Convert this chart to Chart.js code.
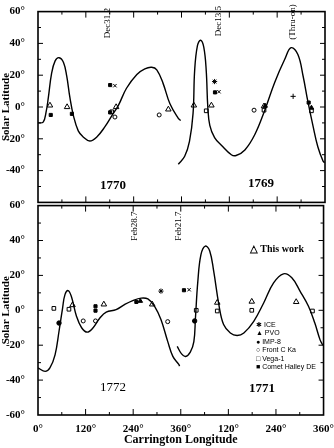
<!DOCTYPE html>
<html>
<head>
<meta charset="utf-8">
<script src="https://cdn.jsdelivr.net/npm/chart.js@4.4.1/dist/chart.umd.min.js"></script>
<style>
  body { margin: 0; background: #fff; }
  #wrap { position: relative; width: 334px; height: 448px; overflow: hidden; }
  canvas { position: absolute; left: 0; }
  .lbl { position: absolute; transform: translate(-50%, -50%); white-space: nowrap; color: #000; }
  .year { font: 13px "Liberation Serif", serif; }
  .bold { font-weight: bold; }
  .date { font: 9px "Liberation Serif", serif; transform: translate(-50%, -50%) rotate(-90deg); }
  .leg { position: absolute; left: 256px; font: 7px "Liberation Sans", sans-serif; line-height: 8.4px; color: #000; }
</style>
</head>
<body>
<div id="wrap">
  <canvas id="topChart" width="334" height="214" style="top:0"></canvas>
  <canvas id="bottomChart" width="334" height="254" style="top:194px"></canvas>

  <div class="lbl year bold" style="left:113px;top:185px">1770</div>
  <div class="lbl year bold" style="left:261px;top:183px">1769</div>
  <div class="lbl year" style="left:113px;top:387px">1772</div>
  <div class="lbl year bold" style="left:262px;top:388px">1771</div>

  <div class="lbl date" style="left:107px;top:23px">Dec31.2</div>
  <div class="lbl date" style="left:218px;top:21px">Dec13.5</div>
  <div class="lbl date" style="left:292px;top:22px">(Thru-on)</div>
  <div class="lbl date" style="left:134px;top:226px">Feb28.7</div>
  <div class="lbl date" style="left:178px;top:226px">Feb21.7</div>

  <div class="lbl bold" style="left:277px;top:248px;font:bold 10px 'Liberation Serif',serif">△ This work</div>
  <div class="leg" style="top:321px">
    ✱ ICE<br>▲ PVO<br>● IMP-8<br>○ Front C Ka<br>□ Vega-1<br>■ Comet Halley DE
  </div>
</div>

<script>
// neutral line curves, Carrington longitude 0-720 (two rotations side by side)
const lon1770 = [0, 13, 20, 26, 34, 43, 53, 64, 72, 80, 89, 101, 114, 130, 147, 168, 185, 202, 222, 248, 268, 285, 298, 314, 331, 352, 358];
const lat1770 = [-10, -9.5, -3.5, 6, 21, 29, 31, 28, 19.5, 6, -5.6, -15, -19, -21.4, -19, -12.4, -5.6, 1.2, 11.8, 20.5, 24, 25, 23.4, 14.7, 2, -7.1, -8.5];

const lon1769 = [352, 368, 380, 389, 393, 400, 408, 416, 422, 426, 431, 443, 460, 485, 497, 519, 544, 569, 594, 619, 635, 652, 665, 677, 690, 702, 715, 719];
const lat1769 = [-36, -31, -21.6, -4, 23, 38.6, 42, 37.5, 23, 0, -11.6, -19.3, -24, -30, -30.5, -27, -17.3, -2, 15.6, 30, 37.3, 33, 19.5, 3.5, -12, -25, -34, -35];

const lon1772 = [0, 18, 30, 43, 53, 62, 68, 76, 84, 97, 110, 124, 139, 156, 172, 197, 218, 239, 260, 277, 294, 310, 327, 340, 355, 357];
const lat1772 = [-33, -35, -33, -25.5, -12, 1.3, 9, 11.3, 8, -3.4, -10, -12.5, -10, -4.4, -1, 0.4, 3.3, 5.6, 7, 6.5, 2.3, -5.3, -17.8, -26.4, -31, -32];

const lon1771 = [351, 362, 372, 384, 393, 397, 403, 411, 422, 433, 443, 456, 468, 485, 502, 519, 544, 569, 594, 619, 640, 661, 682, 698, 711, 718];
const lat1771 = [-20.7, -25, -26.5, -24, -18, -4.4, 16.6, 32, 36.8, 34, 22.4, 3.3, -8.2, -13, -14.4, -13, -6.3, 4.2, 15.7, 20.9, 18.6, 10.9, 2.3, -7.3, -16.8, -20];

// observations, top panel (1770 / 1769)
const topThisWork = [[30, 1], [73, 0], [196, 0], [327, -1.5], [391, 1], [435, 1], [567, 0.5]];
const topVega = [[185, -3], [422, -2.4], [567, -2], [686, -2.4]];
const topFront = [[193, -6.3], [304, -5], [542, -2]];
const topHalley = [[32, -5], [85, -4.3], [181, -3.4], [181, 13.8], [444, 9.2], [679, 2.8]];
const topPvo = [[570, 0.7], [686, -0.5]];
const topIce = [[443, 16]];
const topX = [[193, 13.4], [454, 9.6]];
const topPlus = [[640, 6.7]];

// observations, bottom panel (1772 / 1771)
const botThisWork = [[87, 3], [166, 3.4], [288, 3.4], [452, 4.4], [539, 5], [651, 4.8]];
const botVega = [[40, 1.1], [78, 0.6], [399, 0], [452, -0.4], [539, 0], [692, -0.4]];
const botImp = [[53, -7.3], [395, -6.1]];
const botFront = [[114, -6.1], [145, -6.1], [327, -6.5]];
const botHalley = [[145, 2.3], [145, -0.2], [248, 4.8], [368, 11.5]];
const botPvo = [[258, 5.3]];
const botIce = [[310, 11]];
const botX = [[381, 11.8]];

const lonTicks = [0, 120, 240, 360, 480, 600, 720];
const latTicks = [-60, -40, -20, 0, 20, 40, 60];

const serifBold = { family: 'Liberation Serif', weight: 'bold', size: 11 };

const toXY = (lons, lats) => lons.map((v, i) => ({ x: v, y: lats[i] }));
const pts = arr => arr.map(p => ({ x: p[0], y: p[1] }));

function curve(lons, lats) {
  return { data: toXY(lons, lats), showLine: true, borderColor: '#000', borderWidth: 1.4,
           pointRadius: 0, tension: 0.4, fill: false };
}

function marks(arr, style, filled, r) {
  return { data: pts(arr), showLine: false, pointStyle: style, pointRadius: r,
           borderColor: '#000', borderWidth: 1,
           backgroundColor: filled ? '#000' : 'rgba(0,0,0,0)' };
}

// box round the plot with short inward ticks on all four sides
const frameTicks = {
  id: 'frameTicks',
  afterDatasetsDraw(chart) {
    const { ctx, chartArea: a, scales: { x, y } } = chart;
    ctx.save();
    ctx.strokeStyle = '#000';
    ctx.lineWidth = 1.6;
    ctx.strokeRect(a.left, a.top, a.right - a.left, a.bottom - a.top);
    ctx.lineWidth = 1;
    ctx.beginPath();
    for (let v = 60; v < 720; v += 60) {
      const px = x.getPixelForValue(v);
      const len = v % 120 === 0 ? 6 : 3;
      ctx.moveTo(px, a.bottom); ctx.lineTo(px, a.bottom - len);
      ctx.moveTo(px, a.top); ctx.lineTo(px, a.top + len);
    }
    for (let v = -50; v < 60; v += 10) {
      const py = y.getPixelForValue(v);
      const len = v % 20 === 0 ? 5 : 3;
      ctx.moveTo(a.left, py); ctx.lineTo(a.left + len, py);
      ctx.moveTo(a.right, py); ctx.lineTo(a.right - len, py);
    }
    ctx.stroke();
    ctx.restore();
  }
};

function makeChart(id, datasets, isBottom) {
  return new Chart(document.getElementById(id), {
    type: 'scatter',
    data: { datasets },
    plugins: [frameTicks],
    options: {
      responsive: false,
      animation: false,
      layout: { padding: isBottom ? { top: 10, right: 9, bottom: 0, left: 0 }
                                  : { top: 3, right: 9, bottom: 10, left: 0 } },
      plugins: { legend: { display: false }, tooltip: { enabled: false } },
      scales: {
        x: {
          min: 0, max: 720,
          afterBuildTicks: s => { s.ticks = lonTicks.map(v => ({ value: v })); },
          ticks: {
            display: isBottom, padding: 0, maxRotation: 0, autoSkip: false,
            color: '#000', font: serifBold,
            callback: v => (v === 0 ? 0 : (v % 360 === 0 ? 360 : v % 360)) + '°'
          },
          grid: { display: false },
          border: { display: false },
          title: { display: isBottom, text: 'Carrington Longitude', color: '#000',
                   font: { family: 'Liberation Serif', weight: 'bold', size: 12 },
                   padding: { top: 0, bottom: 1 } },
          afterFit: s => { s.height = isBottom ? 33 : 0; }
        },
        y: {
          min: -60, max: 60,
          afterBuildTicks: s => { s.ticks = latTicks.map(v => ({ value: v })); },
          ticks: {
            padding: 5, color: '#000', font: serifBold,
            callback: v => (!isBottom && v === -60) ? '' : v + '°'
          },
          grid: { display: false },
          border: { display: false },
          title: { display: true, text: 'Solar Latitude', color: '#000',
                   font: { family: 'Liberation Serif', weight: 'bold', size: 11 },
                   padding: 0 },
          afterFit: s => { s.width = 38; }
        }
      }
    }
  });
}

makeChart('topChart', [
  curve(lon1770, lat1770),
  curve(lon1769, lat1769),
  marks(topThisWork, 'triangle', false, 3.2),
  marks(topVega, 'rect', false, 2.6),
  marks(topFront, 'circle', false, 2),
  marks(topHalley, 'rect', true, 2.2),
  marks(topPvo, 'triangle', true, 2.6),
  marks(topIce, 'star', false, 2.6),
  marks(topX, 'crossRot', false, 2.4),
  marks(topPlus, 'cross', false, 2.6)
], false);

makeChart('bottomChart', [
  curve(lon1772, lat1772),
  curve(lon1771, lat1771),
  marks(botThisWork, 'triangle', false, 3.2),
  marks(botVega, 'rect', false, 2.6),
  marks(botImp, 'circle', true, 2.2),
  marks(botFront, 'circle', false, 2),
  marks(botHalley, 'rect', true, 2.2),
  marks(botPvo, 'triangle', true, 2.6),
  marks(botIce, 'star', false, 2.6),
  marks(botX, 'crossRot', false, 2.4)
], true);
</script>
</body>
</html>
